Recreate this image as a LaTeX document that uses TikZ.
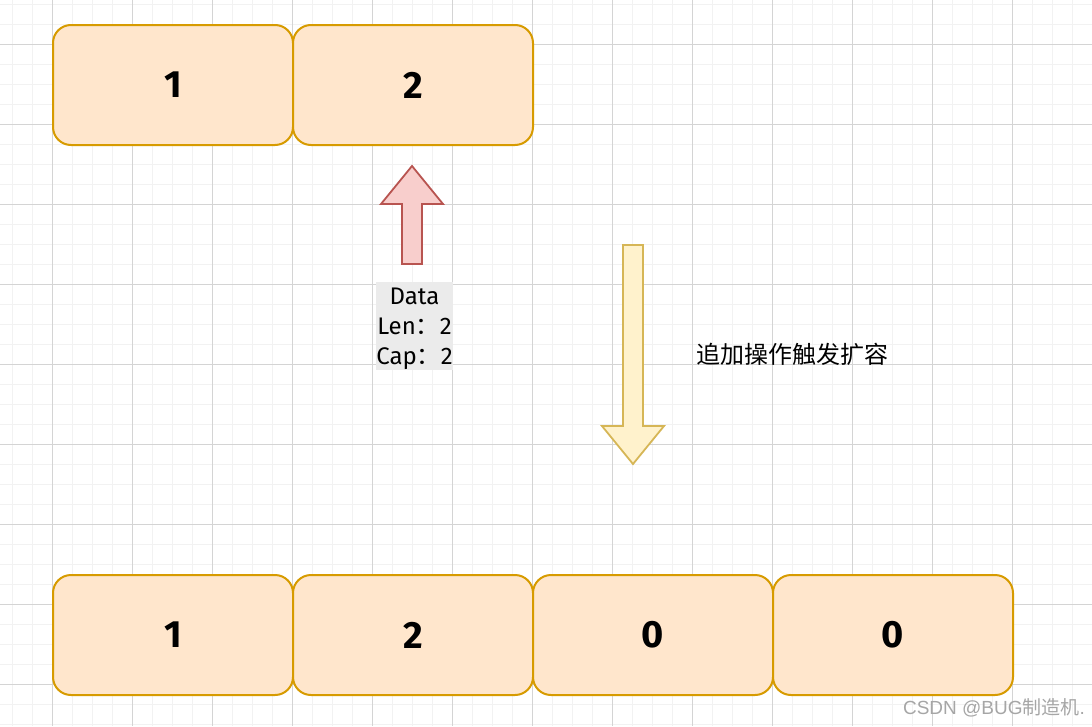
\documentclass[tikz,border=0pt]{standalone}
\usepackage{fontspec}
\setmainfont{Fira Sans}
\newfontfamily\cjk{Noto Sans CJK SC}
\newfontfamily\wmfont{Liberation Sans}
\definecolor{boxline}{HTML}{D79B00}
\definecolor{boxfill}{HTML}{FFE6CC}
\definecolor{redline}{HTML}{B85450}
\definecolor{redfill}{HTML}{F8CECC}
\definecolor{yelline}{HTML}{D6B656}
\definecolor{yelfill}{HTML}{FFF2CC}
\definecolor{minorgrid}{HTML}{F2F2F2}
\definecolor{majorgrid}{HTML}{D4D4D4}
\definecolor{labelbg}{HTML}{EBEBEB}
\begin{document}
\begin{tikzpicture}[x=1pt,y=-1pt,
  cell/.style={draw=boxline, fill=boxfill, line width=2pt, rounded corners=18pt,
    minimum width=240pt, minimum height=120pt, inner sep=0pt,
    font=\fontsize{38}{40}\selectfont\bfseries},
  bigarrow/.style={line width=1.8pt, line join=miter},
  minorline/.style={draw=minorgrid, line width=1pt},
  majorline/.style={draw=majorgrid, line width=1pt}]
\useasboundingbox[fill=white] (0,0) rectangle (1092,726);
% grid
\foreach \x in {12,32,...,1092} \draw[minorline] (\x,0) -- (\x,726);
\foreach \y in {4,24,...,726} \draw[minorline] (0,\y) -- (1092,\y);
\foreach \x in {52,132,...,1092} \draw[majorline] (\x,0) -- (\x,726);
\foreach \y in {44,124,...,726} \draw[majorline] (0,\y) -- (1092,\y);
% top row
\node[cell] (t1) at (173,85) {1};
\node[cell] (t2) at (413,85) {2};
% bottom row
\node[cell] (b1) at (173,635) {1};
\node[cell] (b2) at (413,635) {2};
\node[cell] (b3) at (653,635) {0};
\node[cell] (b4) at (893,635) {0};
% red arrow
\draw[bigarrow, draw=redline, fill=redfill]
  (412,166) -- (443,204) -- (422,204) -- (422,264) -- (402,264) -- (402,204) -- (381,204) -- cycle;
% data label
\fill[labelbg] (376,282) rectangle (453,370);
\node[inner sep=0pt, align=center, font=\fontsize{24}{30}\selectfont] (data) at (414.5,329)
  {Data\\Len{\cjk ：}2\\Cap{\cjk ：}2};
% yellow arrow
\draw[bigarrow, draw=yelline, fill=yelfill]
  (623,245) -- (643,245) -- (643,426) -- (664,426) -- (633,464) -- (602,426) -- (623,426) -- cycle;
\node[font=\cjk\fontsize{24}{26}\selectfont, inner sep=0pt] (lbl) at (792.5,354) {追加操作触发扩容};
% watermark
\node[text=black!35, font=\wmfont\fontsize{19}{20}\selectfont, inner sep=0pt] (wm) at (994,708)
  {CSDN @BUG{\cjk 制造机}.};
\end{tikzpicture}
\end{document}
